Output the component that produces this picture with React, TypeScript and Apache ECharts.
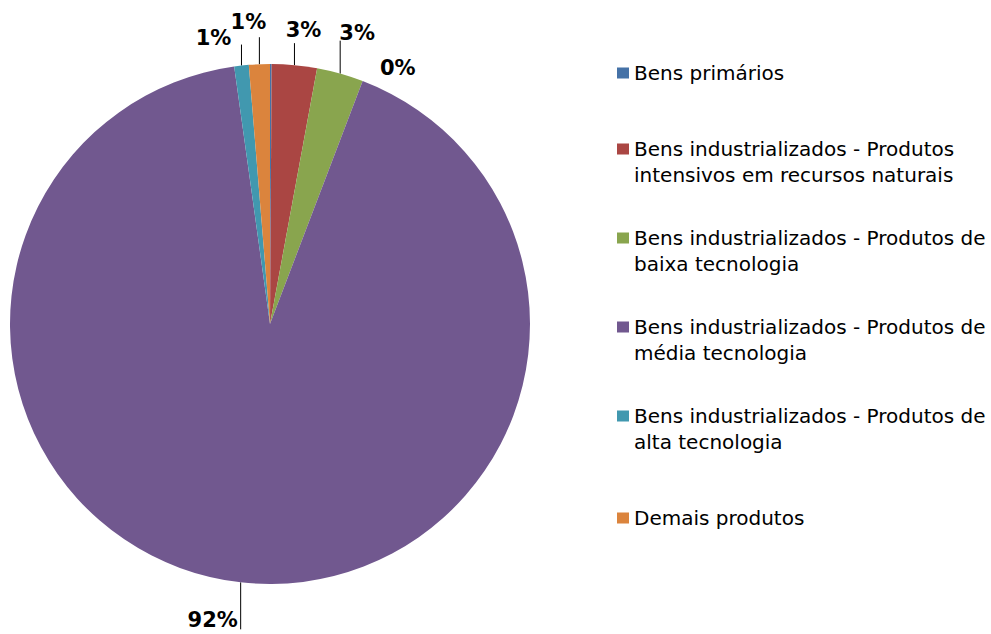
import React, { useEffect, useRef } from "react";
import * as echarts from "echarts";

const categories = [
  "Bens primários",
  "Bens industrializados - Produtos intensivos em recursos naturais",
  "Bens industrializados - Produtos de baixa tecnologia",
  "Bens industrializados - Produtos de média tecnologia",
  "Bens industrializados - Produtos de alta tecnologia",
  "Demais produtos",
];

const legendLabels = [
  "Bens primários",
  "Bens industrializados - Produtos\nintensivos em recursos naturais",
  "Bens industrializados - Produtos de\nbaixa tecnologia",
  "Bens industrializados - Produtos de\nmédia tecnologia",
  "Bens industrializados - Produtos de\nalta tecnologia",
  "Demais produtos",
];

const shares = [0.1, 2.8, 2.9, 92.0, 0.9, 1.3];

const colors = ["#4572A7", "#AA4643", "#89A54E", "#71588F", "#4198AF", "#DB843D"];

// label placement relative to the outer point of each slice (dx, dy of label centre, leader length)
const labelTweaks = [
  { dx: 127, dy: 4, line: 0 },
  { dx: 9, dy: -35, line: -22 },
  { dx: 17, dy: -41, line: -33 },
  { dx: -28, dy: 38, line: 47 },
  { dx: -28, dy: -28, line: -21 },
  { dx: -11, dy: -42, line: -27 },
];

const FONT = "DejaVu Sans";

export default function App() {
  const ref = useRef<HTMLDivElement>(null);
  useEffect(() => {
    if (!ref.current) return;
    const chart = echarts.init(ref.current, undefined, { renderer: "svg" });
    const total = shares.reduce((a, b) => a + b, 0);
    const twoLineIcon = "path://M0,11.5L12,11.5L12,22.5L0,22.5Z M0,0L0.001,0L0,0.001Z M0,60L0.001,60L0,59.999Z";
    const oneLineIcon = "path://M0,24.5L12,24.5L12,35.5L0,35.5Z M0,0L0.001,0L0,0.001Z M0,60L0.001,60L0,59.999Z";
    chart.setOption({
      animation: false,
      backgroundColor: "#ffffff",
      legend: {
        orient: "vertical",
        left: 617,
        top: 43,
        padding: 0,
        itemWidth: 12,
        itemHeight: 60,
        itemGap: 29,
        selectedMode: false,
        textStyle: { fontFamily: FONT, fontSize: 20, color: "#000", lineHeight: 26 },
        formatter: (name: string) => legendLabels[categories.indexOf(name)],
        data: categories.map((c, i) => ({
          name: c,
          icon: legendLabels[i].includes("\n") ? twoLineIcon : oneLineIcon,
        })),
      },
      series: [
        {
          type: "pie",
          center: [270, 324],
          radius: [0, 260],
          startAngle: 90,
          clockwise: true,
          avoidLabelOverlap: false,
          silent: true,
          itemStyle: { borderWidth: 0 },
          label: {
            show: true,
            position: "outside",
            fontFamily: FONT,
            fontSize: 21,
            fontWeight: "bold",
            color: "#000",
            formatter: (p: any) => Math.round((p.value / total) * 100) + "%",
          },
          labelLine: {
            show: true,
            length: 20,
            length2: 0,
            lineStyle: { color: "#000", width: 1 },
          },
          labelLayout: (p: any) => {
            const t = labelTweaks[p.dataIndex];
            const pts = p.labelLinePoints;
            if (!pts) return {};
            const p0 = pts[0];
            const end = [p0[0], p0[1] + t.line];
            return {
              x: p0[0] + t.dx,
              y: p0[1] + t.dy,
              align: "center",
              verticalAlign: "middle",
              labelLinePoints: [p0, end, end],
            };
          },
          data: categories.map((c, i) => ({
            name: c,
            value: shares[i],
            itemStyle: { color: colors[i] },
          })),
        },
      ],
    });
    return () => chart.dispose();
  }, []);
  return (
    <div
      ref={ref}
      style={{ position: "fixed", left: 0, top: 0, width: 991, height: 634 }}
    />
  );
}
